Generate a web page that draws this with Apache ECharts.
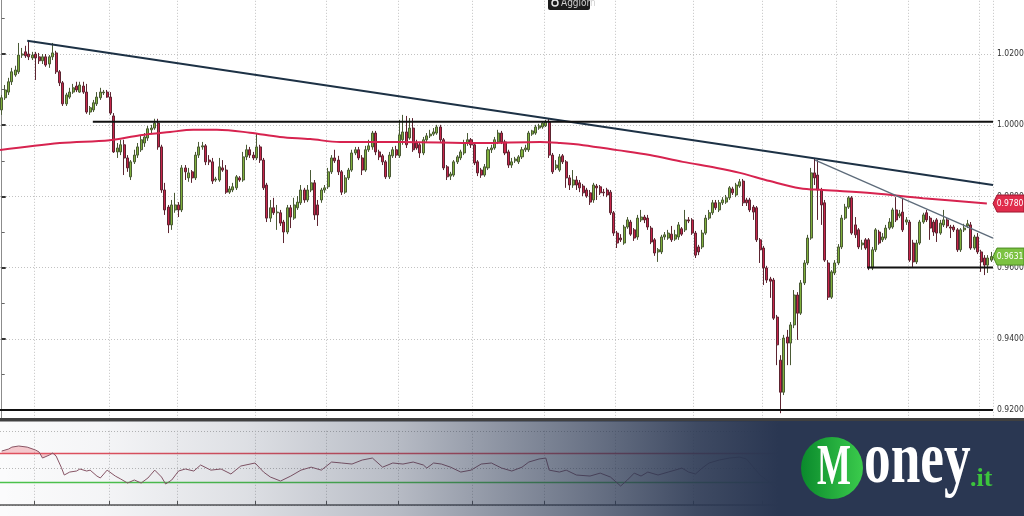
<!DOCTYPE html>
<html><head><meta charset="utf-8">
<script src="https://cdn.jsdelivr.net/npm/echarts@6/dist/echarts.min.js"></script>
<style>html,body{margin:0;padding:0;background:#fff;overflow:hidden}#c{width:1024px;height:516px}</style>
</head><body><div id="c"></div>
<script>
// daily candles: [open, close, low, high]
const candles = [
[1.0043,1.0077,1.0029,1.0085],[1.0077,1.0099,1.0071,1.0113],[1.0093,1.0122,1.0085,1.0133],[1.0122,1.0150,1.0113,1.0161],[1.0141,1.0155,1.0136,1.0167],
[1.0150,1.0197,1.0144,1.0231],[1.0197,1.0200,1.0189,1.0217],[1.0206,1.0195,1.0189,1.0223],[1.0200,1.0192,1.0183,1.0237],[1.0189,1.0197,1.0183,1.0206],
[1.0200,1.0189,1.0127,1.0206],[1.0192,1.0181,1.0172,1.0203],[1.0181,1.0192,1.0172,1.0200],[1.0192,1.0169,1.0164,1.0200],[1.0172,1.0192,1.0161,1.0197],
[1.0192,1.0203,1.0183,1.0231],[1.0203,1.0150,1.0144,1.0209],[1.0150,1.0119,1.0110,1.0155],[1.0119,1.0060,1.0054,1.0124],[1.0060,1.0085,1.0054,1.0091],
[1.0079,1.0093,1.0074,1.0105],[1.0093,1.0105,1.0088,1.0116],[1.0110,1.0099,1.0093,1.0122],[1.0093,1.0113,1.0091,1.0122],[1.0110,1.0093,1.0088,1.0122],
[1.0093,1.0037,1.0032,1.0116],[1.0037,1.0049,1.0029,1.0054],[1.0043,1.0063,1.0037,1.0071],[1.0060,1.0079,1.0054,1.0093],[1.0077,1.0093,1.0071,1.0105],
[1.0091,1.0093,1.0085,1.0099],[1.0093,1.0079,1.0077,1.0099],[1.0079,1.0034,1.0029,1.0093],[1.0026,0.9925,0.9922,1.0034],[0.9925,0.9936,0.9908,0.9950],
[0.9925,0.9945,0.9916,0.9959],[0.9945,0.9908,0.9860,0.9959],[0.9908,0.9880,0.9869,0.9916],[0.9855,0.9897,0.9846,0.9902],[0.9897,0.9916,0.9891,0.9931],
[0.9916,0.9939,0.9908,0.9950],[0.9931,0.9959,0.9925,0.9970],[0.9950,0.9967,0.9939,0.9978],[0.9964,0.9990,0.9956,0.9998],[0.9987,0.9992,0.9975,1.0001],
[0.9992,1.0006,0.9987,1.0018],[1.0006,0.9939,0.9931,1.0018],[0.9939,0.9818,0.9810,0.9945],[0.9818,0.9762,0.9748,0.9838],[0.9770,0.9720,0.9697,0.9776],
[0.9720,0.9776,0.9706,0.9790],[0.9762,0.9776,0.9754,0.9810],[0.9776,0.9762,0.9742,0.9784],[0.9762,0.9880,0.9756,0.9888],[0.9880,0.9869,0.9846,0.9888],
[0.9852,0.9866,0.9841,0.9880],[0.9869,0.9852,0.9838,0.9874],[0.9852,0.9916,0.9846,0.9925],[0.9916,0.9939,0.9908,0.9953],[0.9939,0.9942,0.9931,0.9953],
[0.9942,0.9897,0.9888,0.9947],[0.9902,0.9897,0.9888,0.9916],[0.9897,0.9843,0.9835,0.9908],[0.9846,0.9849,0.9841,0.9855],[0.9846,0.9883,0.9841,0.9908],
[0.9880,0.9874,0.9869,0.9902],[0.9874,0.9812,0.9807,0.9888],[0.9812,0.9821,0.9807,0.9829],[0.9818,0.9827,0.9812,0.9838],[0.9824,0.9855,0.9818,0.9860],
[0.9852,0.9846,0.9841,0.9857],[0.9846,0.9911,0.9841,0.9925],[0.9911,0.9931,0.9902,0.9945],[0.9931,0.9916,0.9908,0.9939],[0.9916,0.9908,0.9902,0.9925],
[0.9908,0.9939,0.9902,0.9978],[0.9939,0.9902,0.9894,0.9945],[0.9902,0.9824,0.9818,0.9908],[0.9832,0.9739,0.9728,0.9838],[0.9739,0.9768,0.9728,0.9790],
[0.9768,0.9754,0.9748,0.9796],[0.9754,0.9756,0.9706,0.9776],[0.9754,0.9725,0.9717,0.9762],[0.9728,0.9700,0.9669,0.9734],[0.9700,0.9768,0.9694,0.9776],
[0.9768,0.9742,0.9711,0.9776],[0.9739,0.9776,0.9734,0.9796],[0.9768,0.9784,0.9762,0.9801],[0.9782,0.9818,0.9776,0.9832],[0.9818,0.9790,0.9782,0.9824],
[0.9790,0.9818,0.9784,0.9832],[0.9818,0.9838,0.9812,0.9874],[0.9838,0.9748,0.9734,0.9846],[0.9776,0.9748,0.9717,0.9790],[0.9790,0.9818,0.9782,0.9824],
[0.9818,0.9824,0.9810,0.9832],[0.9827,0.9869,0.9821,0.9880],[0.9869,0.9908,0.9863,0.9916],[0.9908,0.9900,0.9894,0.9931],[0.9902,0.9869,0.9860,0.9914],
[0.9869,0.9812,0.9804,0.9874],[0.9812,0.9852,0.9807,0.9860],[0.9852,0.9874,0.9846,0.9880],[0.9874,0.9922,0.9869,0.9931],[0.9922,0.9931,0.9916,0.9939],
[0.9931,0.9908,0.9902,0.9939],[0.9908,0.9874,0.9860,0.9916],[0.9874,0.9931,0.9869,0.9942],[0.9931,0.9942,0.9925,0.9959],[0.9939,0.9978,0.9931,0.9984],
[0.9978,0.9925,0.9916,0.9984],[0.9925,0.9911,0.9902,0.9931],[0.9914,0.9897,0.9888,0.9919],[0.9897,0.9855,0.9849,0.9902],[0.9855,0.9916,0.9849,0.9925],
[0.9914,0.9931,0.9908,0.9939],[0.9931,0.9916,0.9908,0.9942],[0.9914,0.9973,0.9908,1.0015],[0.9959,0.9981,0.9945,1.0029],[0.9981,0.9945,0.9936,1.0026],
[0.9964,0.9992,0.9959,1.0020],[0.9992,0.9931,0.9925,1.0020],[0.9950,0.9936,0.9931,0.9959],[0.9945,0.9922,0.9908,0.9950],[0.9922,0.9959,0.9916,0.9967],
[0.9959,0.9970,0.9953,0.9978],[0.9970,0.9975,0.9964,0.9987],[0.9975,0.9981,0.9970,0.9992],[0.9978,0.9995,0.9973,1.0001],[0.9995,0.9959,0.9953,1.0001],
[0.9959,0.9880,0.9874,0.9964],[0.9883,0.9855,0.9846,0.9888],[0.9857,0.9863,0.9846,0.9869],[0.9860,0.9897,0.9855,0.9902],[0.9897,0.9911,0.9891,0.9916],
[0.9908,0.9925,0.9902,0.9931],[0.9922,0.9950,0.9916,0.9959],[0.9950,0.9959,0.9942,0.9978],[0.9959,0.9945,0.9936,0.9964],[0.9945,0.9894,0.9888,0.9950],
[0.9897,0.9866,0.9857,0.9902],[0.9874,0.9860,0.9852,0.9880],[0.9860,0.9883,0.9855,0.9891],[0.9880,0.9931,0.9874,0.9939],[0.9931,0.9936,0.9922,0.9945],
[0.9936,0.9959,0.9931,0.9967],[0.9953,0.9978,0.9947,0.9987],[0.9978,0.9953,0.9947,0.9984],[0.9953,0.9922,0.9916,0.9959],[0.9925,0.9888,0.9880,0.9931],
[0.9888,0.9897,0.9880,0.9908],[0.9900,0.9905,0.9894,0.9911],[0.9897,0.9911,0.9891,0.9916],[0.9911,0.9931,0.9905,0.9939],[0.9931,0.9936,0.9925,0.9945],
[0.9931,0.9978,0.9925,0.9984],[0.9975,0.9984,0.9970,0.9987],[0.9978,0.9995,0.9973,1.0001],[0.9992,0.9998,0.9987,1.0004],[0.9995,1.0006,0.9990,1.0009],
[0.9998,1.0009,0.9995,1.0015],[1.0009,0.9916,0.9908,1.0018],[0.9916,0.9869,0.9863,0.9922],[0.9880,0.9888,0.9874,0.9902],[0.9874,0.9911,0.9869,0.9919],
[0.9914,0.9897,0.9891,0.9919],[0.9897,0.9852,0.9824,0.9902],[0.9852,0.9832,0.9818,0.9860],[0.9832,0.9846,0.9824,0.9874],[0.9846,0.9832,0.9818,0.9857],
[0.9838,0.9824,0.9812,0.9846],[0.9829,0.9810,0.9801,0.9835],[0.9818,0.9801,0.9796,0.9824],[0.9810,0.9784,0.9776,0.9818],[0.9790,0.9832,0.9782,0.9838],
[0.9829,0.9824,0.9790,0.9835],[0.9827,0.9810,0.9804,0.9832],[0.9812,0.9810,0.9801,0.9821],[0.9818,0.9804,0.9798,0.9824],[0.9812,0.9754,0.9748,0.9818],
[0.9754,0.9697,0.9689,0.9759],[0.9697,0.9669,0.9655,0.9703],[0.9683,0.9678,0.9672,0.9694],[0.9669,0.9714,0.9664,0.9720],[0.9714,0.9734,0.9709,0.9742],
[0.9728,0.9694,0.9689,0.9734],[0.9706,0.9683,0.9675,0.9711],[0.9686,0.9739,0.9678,0.9748],[0.9734,0.9742,0.9728,0.9762],[0.9742,0.9734,0.9725,0.9748],
[0.9739,0.9714,0.9706,0.9748],[0.9711,0.9672,0.9666,0.9717],[0.9678,0.9641,0.9633,0.9683],[0.9644,0.9650,0.9616,0.9655],[0.9644,0.9686,0.9638,0.9692],
[0.9686,0.9692,0.9678,0.9700],[0.9683,0.9697,0.9678,0.9706],[0.9694,0.9678,0.9672,0.9717],[0.9680,0.9692,0.9675,0.9706],[0.9686,0.9720,0.9678,0.9728],
[0.9709,0.9694,0.9689,0.9714],[0.9706,0.9734,0.9700,0.9762],[0.9734,0.9731,0.9725,0.9742],[0.9734,0.9697,0.9692,0.9739],[0.9697,0.9635,0.9627,0.9703],
[0.9658,0.9644,0.9635,0.9664],[0.9658,0.9697,0.9652,0.9706],[0.9697,0.9739,0.9692,0.9748],[0.9739,0.9754,0.9734,0.9762],[0.9754,0.9782,0.9748,0.9790],
[0.9782,0.9768,0.9762,0.9790],[0.9762,0.9782,0.9756,0.9790],[0.9782,0.9790,0.9776,0.9798],[0.9784,0.9796,0.9779,0.9804],[0.9796,0.9824,0.9790,0.9829],
[0.9821,0.9810,0.9804,0.9827],[0.9804,0.9832,0.9798,0.9838],[0.9829,0.9841,0.9824,0.9849],[0.9843,0.9782,0.9773,0.9849],[0.9790,0.9782,0.9773,0.9796],
[0.9790,0.9762,0.9756,0.9796],[0.9770,0.9756,0.9734,0.9776],[0.9768,0.9678,0.9672,0.9773],[0.9678,0.9650,0.9613,0.9683],[0.9655,0.9599,0.9551,0.9661],
[0.9599,0.9565,0.9557,0.9605],[0.9568,0.9562,0.9515,0.9574],[0.9565,0.9458,0.9453,0.9571],[0.9461,0.9383,0.9326,0.9467],[0.9340,0.9250,0.9191,0.9354],
[0.9250,0.9402,0.9242,0.9411],[0.9405,0.9388,0.9326,0.9425],[0.9388,0.9439,0.9326,0.9447],[0.9439,0.9523,0.9430,0.9537],[0.9523,0.9472,0.9397,0.9531],
[0.9472,0.9557,0.9467,0.9565],[0.9557,0.9613,0.9551,0.9621],[0.9613,0.9683,0.9607,0.9692],[0.9683,0.9866,0.9678,0.9880],[0.9866,0.9852,0.9832,0.9908],
[0.9860,0.9818,0.9734,0.9902],[0.9818,0.9776,0.9720,0.9824],[0.9782,0.9621,0.9616,0.9790],[0.9613,0.9517,0.9509,0.9621],[0.9517,0.9588,0.9512,0.9593],
[0.9585,0.9613,0.9579,0.9621],[0.9613,0.9658,0.9607,0.9666],[0.9658,0.9739,0.9652,0.9748],[0.9739,0.9770,0.9734,0.9779],[0.9770,0.9796,0.9765,0.9801],
[0.9796,0.9697,0.9692,0.9801],[0.9720,0.9692,0.9683,0.9742],[0.9706,0.9658,0.9652,0.9711],[0.9664,0.9669,0.9650,0.9678],[0.9678,0.9655,0.9650,0.9683],
[0.9678,0.9599,0.9593,0.9683],[0.9599,0.9650,0.9593,0.9658],[0.9650,0.9706,0.9644,0.9711],[0.9700,0.9669,0.9664,0.9706],[0.9678,0.9686,0.9672,0.9697],
[0.9683,0.9711,0.9678,0.9720],[0.9711,0.9728,0.9706,0.9739],[0.9714,0.9762,0.9709,0.9768],[0.9762,0.9734,0.9728,0.9798],[0.9745,0.9751,0.9739,0.9762],
[0.9756,0.9706,0.9700,0.9796],[0.9728,0.9734,0.9720,0.9742],[0.9728,0.9621,0.9616,0.9734],[0.9669,0.9616,0.9602,0.9678],[0.9616,0.9669,0.9610,0.9678],
[0.9669,0.9728,0.9664,0.9734],[0.9728,0.9748,0.9723,0.9754],[0.9754,0.9734,0.9728,0.9762],[0.9739,0.9711,0.9678,0.9745],[0.9728,0.9700,0.9689,0.9734],
[0.9734,0.9697,0.9672,0.9739],[0.9697,0.9725,0.9692,0.9734],[0.9720,0.9734,0.9714,0.9762],[0.9734,0.9717,0.9711,0.9739],[0.9714,0.9711,0.9683,0.9720],
[0.9714,0.9706,0.9700,0.9720],[0.9706,0.9650,0.9644,0.9711],[0.9650,0.9706,0.9644,0.9711],[0.9706,0.9711,0.9700,0.9723],[0.9717,0.9723,0.9711,0.9734],
[0.9720,0.9655,0.9650,0.9728],[0.9655,0.9686,0.9650,0.9692],[0.9686,0.9644,0.9638,0.9697],[0.9644,0.9616,0.9588,0.9650],[0.9627,0.9607,0.9579,0.9635],
[0.9607,0.9627,0.9585,0.9635],[0.9621,0.9631,0.9616,0.9644]
];
// 200-day moving average, read at [candle index, price]
const maLine = [[-0.5,0.9930],[17.1,0.9950],[31.8,0.9958],[40.7,0.9972],[49.5,0.9981],[56.3,0.9987],[63.3,0.9987],[73,0.9979],[81.8,0.9967],[90.7,0.9961],[99.5,0.9953],[117.1,0.9953],[140.6,0.9950],[158.3,0.9953],[164.2,0.9950],[171,0.9944],[181,0.9930],[190.6,0.9916],[200.3,0.9897],[210.3,0.9880],[217.1,0.9866],[225.9,0.9843],[234.7,0.9823],[241.5,0.9818],[256.2,0.9809],[270.9,0.9795],[289.7,0.9780]];
// RSI oscillator, read at [candle index, value]
const rsi = [[0,72.7],[2,75.4],[3,78],[5,79.5],[7.5,78],[10,74],[11,71.4],[12,63.3],[14,67.3],[15,70],[16,66],[17.5,51],[18.4,40.4],[20,44.4],[22,45.8],[23,48.5],[25,45.8],[26,47],[28,39],[29,36.4],[31,47],[33.4,39],[35,35],[37,29.6],[39,33.7],[41,29.6],[43,36.4],[45,47],[47,37.7],[48.2,28.3],[50,33.7],[52,45.8],[54,48.5],[56.5,45.8],[58.5,53.9],[61.5,47],[64.5,48.5],[67.4,41.8],[70.3,52.5],[74.5,56.6],[77,44.4],[79,37.7],[82,32.3],[85,39],[88,47],[91,51],[94,47],[97,57.9],[100,56.6],[103,55.2],[106,60.6],[109,63.3],[112,51],[115,56.6],[118,55.2],[121,57.9],[124,53.9],[125,49.8],[127,56.6],[129.3,55.2],[132,51],[135,44.4],[138,47],[141,55.2],[144,56.6],[147,49.8],[150,45.8],[153,51],[155,57.9],[158,62],[160,63.3],[161,47],[164,44.4],[166,47],[169,40.4],[173,39],[176,43],[179,37.7],[182,25.6],[184,33.7],[186,43],[188,39],[190,44.4],[193,40.4],[196,44.4],[198,47],[200,49.8],[202,44.4],[204,41.8],[206,49.8],[208,56.6],[211,60.6],[214,63.3],[217,64.6],[219,62],[220,56.6],[223,40.4],[226,29.6],[229,16.2],[230,20.2],[233,33.7],[236,51]];
const rsiLevels = [70, 30];
const monthStarts = [10,32,52,75,96,117,139,160,181,204,224,246,267,288];
const trendMain = [[7.5,1.0237],[291.5,0.9832]];
const trendShort = [[239.2,0.9902],[291.5,0.9683]];
const resistance = [[26.8,1.0010],[291.5,1.0010]];
const floorLine = [[-0.5,0.9200],[291.5,0.9200]];
const supportLine = [[254.5,0.9600],[291.5,0.9600]];
const lastPrice = 0.9631;
const maLast = 0.9780;

const N = candles.length;
const days = candles.map((c, i) => String(i));
const narrow = "'Liberation Sans Narrow','DejaVu Sans Condensed',sans-serif";
const chart = echarts.init(document.getElementById('c'), null, {renderer: 'canvas'});
const dotted = {color: '#c2c2c2', type: [1, 2], width: 1};
const isMonth = (i) => monthStarts.indexOf(i) >= 0;

chart.setOption({
  animation: false,
  backgroundColor: '#ffffff',
  grid: [
    {left: 0, top: -17.2, width: 993, height: 498.4, containLabel: false, outerBoundsMode: 'none'},
    {left: 0, top: 430.8, width: 993, height: 74.2, containLabel: false, outerBoundsMode: 'none'}
  ],
  xAxis: [
    {type: 'category', gridIndex: 0, data: days, boundaryGap: true,
     axisLine: {show: false}, axisTick: {show: false}, axisLabel: {show: false},
     splitLine: {show: true, interval: isMonth, lineStyle: dotted}},
    {type: 'category', gridIndex: 1, data: days, boundaryGap: true, position: 'bottom', offset: 8, z: 6,
     axisLine: {show: true, lineStyle: {color: '#555', width: 1.5}},
     axisTick: {show: true, inside: true, length: 4, interval: isMonth, lineStyle: {color: '#555'}},
     axisLabel: {show: false},
     splitLine: {show: true, interval: isMonth, lineStyle: dotted}},
    {type: 'value', gridIndex: 0, min: -0.5, max: N - 0.5, show: false},
    {type: 'value', gridIndex: 1, min: -0.5, max: N - 0.5, show: false}
  ],
  yAxis: [
    {type: 'value', gridIndex: 0, position: 'right', min: 0.90, max: 1.04, interval: 0.02,
     axisLine: {show: true, lineStyle: {color: '#8c8c8c', width: 1}},
     axisTick: {show: true, length: 4, lineStyle: {color: '#333', width: 2}},
     minorTick: {show: true, splitNumber: 2, length: 3, lineStyle: {color: '#666', width: 1}},
     minorSplitLine: {show: false},
     axisLabel: {margin: 4, fontFamily: narrow, fontSize: 8.5, color: '#333',
       formatter: (v) => (v < 0.91 || v > 1.03) ? '' : v.toFixed(4)},
     splitLine: {show: true, lineStyle: dotted}},
    {type: 'value', gridIndex: 1, min: 0, max: 100, interval: 50, z: 6,
     axisLine: {show: false}, axisTick: {show: false}, axisLabel: {show: false},
     splitLine: {show: true, lineStyle: {color: '#b8b8b8', type: [1, 2]}}}
  ],
  series: [
    {type: 'candlestick', xAxisIndex: 0, yAxisIndex: 0, data: candles, barWidth: '74%', z: 2,
     itemStyle: {color: '#80b03c', color0: '#c7264b', borderColor: '#4a5a35', borderColor0: '#5c2430', borderWidth: 1}},
    {type: 'line', xAxisIndex: 2, yAxisIndex: 0, data: maLine, smooth: 0.35, showSymbol: false, z: 3,
     lineStyle: {color: '#d7234f', width: 2}},
    {type: 'line', xAxisIndex: 2, yAxisIndex: 0, data: trendMain, showSymbol: false, z: 4,
     lineStyle: {color: '#1d3145', width: 2}},
    {type: 'line', xAxisIndex: 2, yAxisIndex: 0, data: trendShort, showSymbol: false, z: 4,
     lineStyle: {color: '#5d6b7a', width: 1.3}},
    {type: 'line', xAxisIndex: 2, yAxisIndex: 0, data: resistance, showSymbol: false, z: 4,
     lineStyle: {color: '#111', width: 2}},
    {type: 'line', xAxisIndex: 2, yAxisIndex: 0, data: floorLine, showSymbol: false, z: 4,
     lineStyle: {color: '#111', width: 2}},
    {type: 'line', xAxisIndex: 2, yAxisIndex: 0, data: supportLine, showSymbol: false, z: 4,
     lineStyle: {color: '#111', width: 2}},
    {type: 'line', xAxisIndex: 3, yAxisIndex: 1, data: rsi.slice(0, 11), showSymbol: false, z: 7,
     lineStyle: {width: 0}, areaStyle: {origin: rsiLevels[0], color: 'rgba(232,96,108,0.45)'}},
    {type: 'line', xAxisIndex: 3, yAxisIndex: 1, data: rsi, showSymbol: false, z: 7,
     lineStyle: {color: '#8a5666', width: 1},
     markLine: {silent: true, symbol: 'none', z: 7, label: {show: false},
       lineStyle: {color: '#e0505e', width: 1.3, type: 'solid'},
       data: [{yAxis: rsiLevels[0], lineStyle: {color: '#e0505e', width: 1.3, type: 'solid'}},
              {yAxis: rsiLevels[1], lineStyle: {color: '#4cc24c', width: 1.3, type: 'solid'}}]}}
  ]
});

const yMA = chart.convertToPixel({yAxisIndex: 0}, maLast);
const yLast = chart.convertToPixel({yAxisIndex: 0}, lastPrice);
function tag(yc, txt, fill, stroke) {
  return {type: 'group', z: 20, children: [
    {type: 'polygon', z: 20, shape: {points: [[993, yc], [997, yc - 8.5], [1024, yc - 8.5], [1024, yc + 8.5], [997, yc + 8.5]]},
     style: {fill: fill, stroke: stroke, lineWidth: 1}},
    {type: 'text', z: 21, style: {x: 1010, y: yc, text: txt, fill: '#fff', fontFamily: narrow, fontSize: 8.5,
      align: 'center', verticalAlign: 'middle'}}
  ]};
}
const navy = 'rgba(42,55,82,';
chart.setOption({
  graphic: [
    {type: 'rect', z: 5, shape: {x: 0, y: 421, width: 1024, height: 95}, style: {fill: '#fbfbfc'}},
    {type: 'rect', z: 8, shape: {x: 0, y: 418, width: 1024, height: 3.5}, style: {fill: '#404040'}},
    {type: 'rect', z: 9, shape: {x: 0, y: 421, width: 1024, height: 95},
     style: {fill: new echarts.graphic.LinearGradient(0, 0, 1, 0, [
       {offset: 0, color: navy + '0)'}, {offset: 0.1, color: navy + '0.03)'},
       {offset: 0.24, color: navy + '0.14)'}, {offset: 0.39, color: navy + '0.33)'},
       {offset: 0.49, color: navy + '0.53)'}, {offset: 0.59, color: navy + '0.72)'},
       {offset: 0.68, color: navy + '0.9)'}, {offset: 0.76, color: navy + '1)'},
       {offset: 1, color: navy + '1)'}])}},
    {type: 'circle', z: 10, shape: {cx: 832, cy: 468, r: 31},
     style: {fill: new echarts.graphic.LinearGradient(0, 0, 1, 0, [
       {offset: 0, color: '#0a8a2c'}, {offset: 1, color: '#3bcb4c'}])}},
    {type: 'text', z: 11, x: 817, y: 469, scaleX: 0.62,
     style: {x: 0, y: 0, text: 'M', fill: '#ffffff', fontFamily: "'Liberation Serif',serif", fontWeight: 'bold', fontSize: 58, verticalAlign: 'middle', align: 'left'}},
    {type: 'text', z: 11, x: 864, y: 463, scaleX: 0.72,
     style: {x: 0, y: 0, text: 'oney', fill: '#ffffff', fontFamily: "'Liberation Serif',serif", fontWeight: 'bold', fontSize: 74, verticalAlign: 'middle', align: 'left'}},
    {type: 'text', z: 11, x: 970, y: 479,
     style: {x: 0, y: 0, text: '.it', fill: '#3cc43c', fontFamily: "'Liberation Serif',serif", fontWeight: 'bold', fontSize: 26, verticalAlign: 'middle', align: 'left'}},
    tag(yMA, maLast.toFixed(4), '#e02d4c', '#a01830'),
    tag(yLast, lastPrice.toFixed(4), '#7cc242', '#4a8a20'),
    {type: 'rect', z: 12, shape: {x: 548, y: -5, width: 42, height: 15, r: 2}, style: {fill: '#1c1c1c'}},
    {type: 'circle', z: 13, shape: {cx: 555, cy: 3, r: 3}, style: {fill: 'none', stroke: '#e6e6e6', lineWidth: 1.5}},
    {type: 'text', z: 13, style: {x: 561, y: 3, text: 'Aggiorn', fill: '#cfcfcf', fontFamily: narrow, fontSize: 10, verticalAlign: 'middle', align: 'left'}}
  ]
});
</script>
</body></html>
